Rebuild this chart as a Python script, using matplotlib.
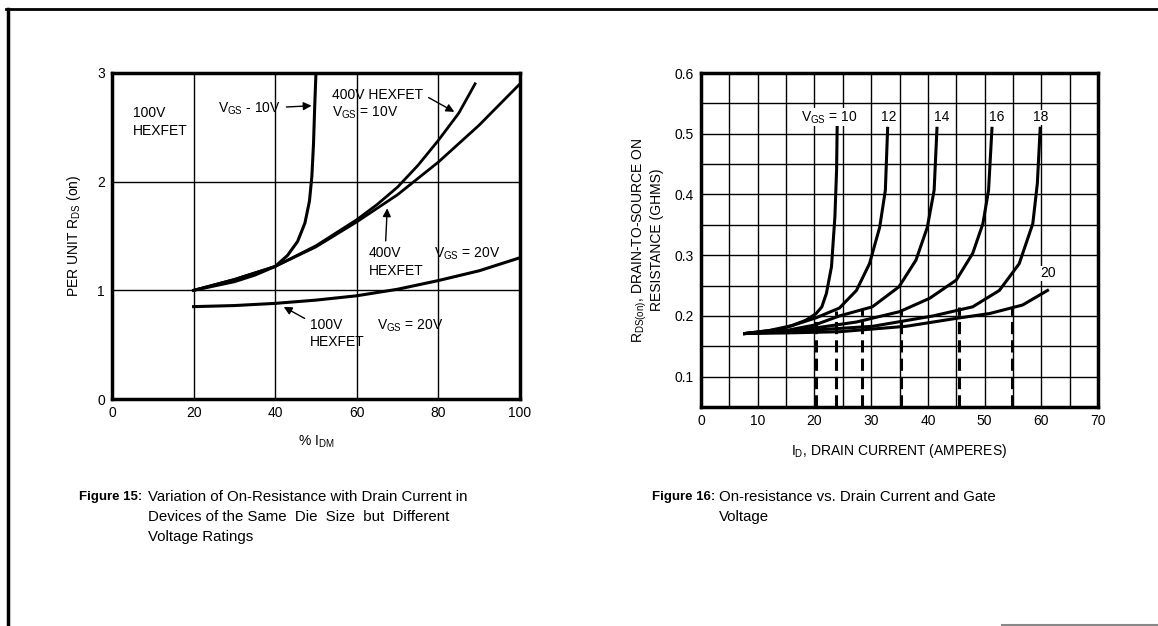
import matplotlib
matplotlib.use("Agg")
import matplotlib.pyplot as plt
from matplotlib.lines import Line2D

plt.rcParams["font.family"] = ["Liberation Sans", "DejaVu Sans"]
plt.rcParams["mathtext.fontset"] = "custom"
plt.rcParams["mathtext.rm"] = "Liberation Sans"
plt.rcParams["mathtext.it"] = "Liberation Sans"

# ---- Figure 15 data: % of I_DM vs per-unit R_DS(on)
pct_100v_10 = [20, 25, 30, 35, 40, 43, 45.5, 47.3, 48.4, 49.0, 49.4, 49.7, 50.0]
r_100v_10 = [1.0, 1.04, 1.08, 1.14, 1.22, 1.32, 1.45, 1.62, 1.82, 2.05, 2.35, 2.7, 3.0]
pct_400v_10 = [20, 30, 40, 50, 60, 65, 70, 75, 80, 85, 89]
r_400v_10 = [1.0, 1.1, 1.22, 1.41, 1.65, 1.79, 1.95, 2.15, 2.38, 2.63, 2.9]
pct_400v_20 = [20, 30, 40, 50, 60, 70, 80, 90, 100]
r_400v_20 = [1.0, 1.1, 1.22, 1.4, 1.63, 1.88, 2.18, 2.52, 2.9]
pct_100v_20 = [20, 30, 40, 50, 60, 70, 80, 90, 100]
r_100v_20 = [0.85, 0.86, 0.88, 0.91, 0.95, 1.01, 1.09, 1.18, 1.3]

# ---- Figure 16 data: drain current (A) vs R_DS(on) (ohms) for each V_GS
vgs_labels = ["10", "12", "14", "16", "18", "20"]
id_curves = [
    [7.7, 12, 16, 18.5, 20.3, 21.3, 22.1, 23.0, 23.6, 23.9, 24.0],
    [7.7, 14, 20.3, 24.4, 27.4, 29.7, 31.5, 32.5, 32.9],
    [7.7, 15, 20, 24.4, 30.2, 34.9, 37.9, 39.9, 41.1, 41.6],
    [7.7, 15, 20, 27.4, 35.0, 40.3, 45.0, 47.9, 49.7, 50.7, 51.3],
    [7.7, 15, 22, 30.3, 40.9, 47.9, 52.6, 56.1, 58.5, 59.3, 59.8],
    [7.7, 15, 24.4, 36.2, 45.0, 50.9, 56.7, 61.1],
]
rds_curves = [
    [0.171, 0.176, 0.184, 0.193, 0.204, 0.215, 0.237, 0.281, 0.363, 0.44, 0.511],
    [0.171, 0.178, 0.197, 0.213, 0.242, 0.286, 0.346, 0.407, 0.509],
    [0.171, 0.176, 0.185, 0.2, 0.215, 0.248, 0.292, 0.346, 0.407, 0.509],
    [0.171, 0.175, 0.18, 0.19, 0.207, 0.229, 0.259, 0.303, 0.352, 0.407, 0.509],
    [0.171, 0.174, 0.178, 0.183, 0.2, 0.215, 0.242, 0.286, 0.352, 0.418, 0.509],
    [0.171, 0.172, 0.174, 0.183, 0.196, 0.204, 0.218, 0.242],
]
drop_id = [20.3, 23.8, 28.3, 35.2, 45.4, 54.9]
drop_rds = [0.195, 0.208, 0.21, 0.21, 0.215, 0.215]

fig = plt.figure(figsize=(11.58, 6.26), dpi=100)

# outer frame
fig.add_artist(Line2D([0.005, 1.0], [0.986, 0.986], transform=fig.transFigure, color="black", lw=2))
fig.add_artist(Line2D([0.0065, 0.0065], [0.0, 0.986], transform=fig.transFigure, color="black", lw=2.5))
fig.add_artist(Line2D([0.865, 1.0], [0.002, 0.002], transform=fig.transFigure, color="#888888", lw=1.5))

# ---------------- Figure 15 ----------------
ax1 = fig.add_axes([0.0967, 0.3626, 0.3523, 0.5208])
ax1.set_xlim(0, 100)
ax1.set_ylim(0, 3)
for x in [20, 40, 60, 80]:
    ax1.axvline(x, color="black", lw=1.0, zorder=1)
for y in [1, 2]:
    ax1.axhline(y, color="black", lw=1.0, zorder=1)
for s in ax1.spines.values():
    s.set_linewidth(2.5)
ax1.set_xticks([0, 20, 40, 60, 80, 100])
ax1.set_yticks([0, 1, 2, 3])
ax1.tick_params(length=0, labelsize=10, pad=5)

ax1.plot(pct_100v_10, r_100v_10, color="black", lw=2.2, zorder=3)
ax1.plot(pct_400v_10, r_400v_10, color="black", lw=2.0, zorder=3)
ax1.plot(pct_400v_20, r_400v_20, color="black", lw=2.0, zorder=3)
ax1.plot(pct_100v_20, r_100v_20, color="black", lw=2.2, zorder=3)

ax1.set_ylabel(r"PER UNIT R$_{\rm DS}$ (on)", fontsize=10, labelpad=10)
ax1.set_xlabel(r"% I$_{\rm DM}$", fontsize=10, labelpad=10)

kw = dict(fontsize=10, color="black", zorder=4)
arrow = dict(arrowstyle="-|>", color="black", lw=1.0, mutation_scale=12)
ax1.text(5.2, 2.55, "100V\nHEXFET", va="center", ha="left", linespacing=1.3, **kw)
ax1.annotate(r"V$_{\rm GS}$ - 10V", xy=(49.6, 2.7), xytext=(26, 2.67),
             va="center", ha="left", arrowprops=arrow, **kw)
ax1.annotate("400V HEXFET\n" + r"V$_{\rm GS}$ = 10V", xy=(84.5, 2.63), xytext=(54, 2.71),
             va="center", ha="left", linespacing=1.2,
             arrowprops=dict(arrow, relpos=(1.0, 0.8)), **kw)
ax1.annotate("400V\nHEXFET", xy=(67.5, 1.78), xytext=(63, 1.26),
             va="center", ha="left", linespacing=1.3,
             arrowprops=dict(arrow, relpos=(0.3, 1.0)), **kw)
ax1.text(79, 1.34, r"V$_{\rm GS}$ = 20V", va="center", ha="left", **kw)
ax1.annotate("100V\nHEXFET", xy=(41.5, 0.86), xytext=(48.5, 0.6),
             va="center", ha="left", linespacing=1.3,
             arrowprops=dict(arrow, relpos=(0.0, 0.9)), **kw)
ax1.text(65, 0.67, r"V$_{\rm GS}$ = 20V", va="center", ha="left", **kw)

# ---------------- Figure 16 ----------------
ax2 = fig.add_axes([0.6054, 0.3498, 0.3428, 0.5335])
ax2.set_xlim(0, 70)
ax2.set_ylim(0.05, 0.6)
for x in range(5, 70, 5):
    ax2.axvline(x, color="black", lw=1.0, zorder=1)
for i in range(2, 12):
    ax2.axhline(0.05 * i, color="black", lw=1.0, zorder=1)
for s in ax2.spines.values():
    s.set_linewidth(2.5)
ax2.set_xticks([0, 10, 20, 30, 40, 50, 60, 70])
ax2.set_yticks([0.1, 0.2, 0.3, 0.4, 0.5, 0.6])
ax2.set_yticklabels(["0.1", "0.2", "0.3", "0.4", "0.5", "0.6"])
ax2.tick_params(length=0, labelsize=10, pad=5)

for xs, ys in zip(id_curves, rds_curves):
    ax2.plot(xs, ys, color="black", lw=2.2, zorder=3)
for x, y in zip(drop_id, drop_rds):
    ax2.plot([x, x], [0.05, y], color="black", lw=2.2, ls=(0, (4, 2)), zorder=2)

label_pos = [(17.7, 0.527), (31.8, 0.527), (41.0, 0.527), (50.7, 0.527), (58.6, 0.527), (59.8, 0.27)]
for lab, (x, y) in zip(vgs_labels, label_pos):
    txt = r"V$_{\rm GS}$ = " + lab if lab == "10" else lab
    ax2.text(x, y, txt, va="center", ha="left", fontsize=10, zorder=4,
             bbox=dict(facecolor="white", edgecolor="none", pad=0.5))

ax2.set_ylabel(r"R$_{\rm DS(on)}$, DRAIN-TO-SOURCE ON" + "\nRESISTANCE (GHMS)",
               fontsize=10, labelpad=8, linespacing=1.1)
ax2.set_xlabel(r"I$_{\rm D}$, DRAIN CURRENT (AMPERES)", fontsize=10, labelpad=10)

# ---------------- captions ----------------
cap = dict(fontsize=10.8, va="center", ha="left")
bold = dict(fontsize=9.5, va="center", ha="left", fontweight="bold")
fig.text(0.068, 0.206, "Figure 15:", **bold)
fig.text(0.1275, 0.206, "Variation of On-Resistance with Drain Current in", **cap)
fig.text(0.1275, 0.174, "Devices of the Same  Die  Size  but  Different", **cap)
fig.text(0.1275, 0.142, "Voltage Ratings", **cap)
fig.text(0.563, 0.206, "Figure 16:", **bold)
fig.text(0.621, 0.206, "On-resistance vs. Drain Current and Gate", **cap)
fig.text(0.621, 0.174, "Voltage", **cap)

fig.savefig("out.png", dpi=100, facecolor="white")
